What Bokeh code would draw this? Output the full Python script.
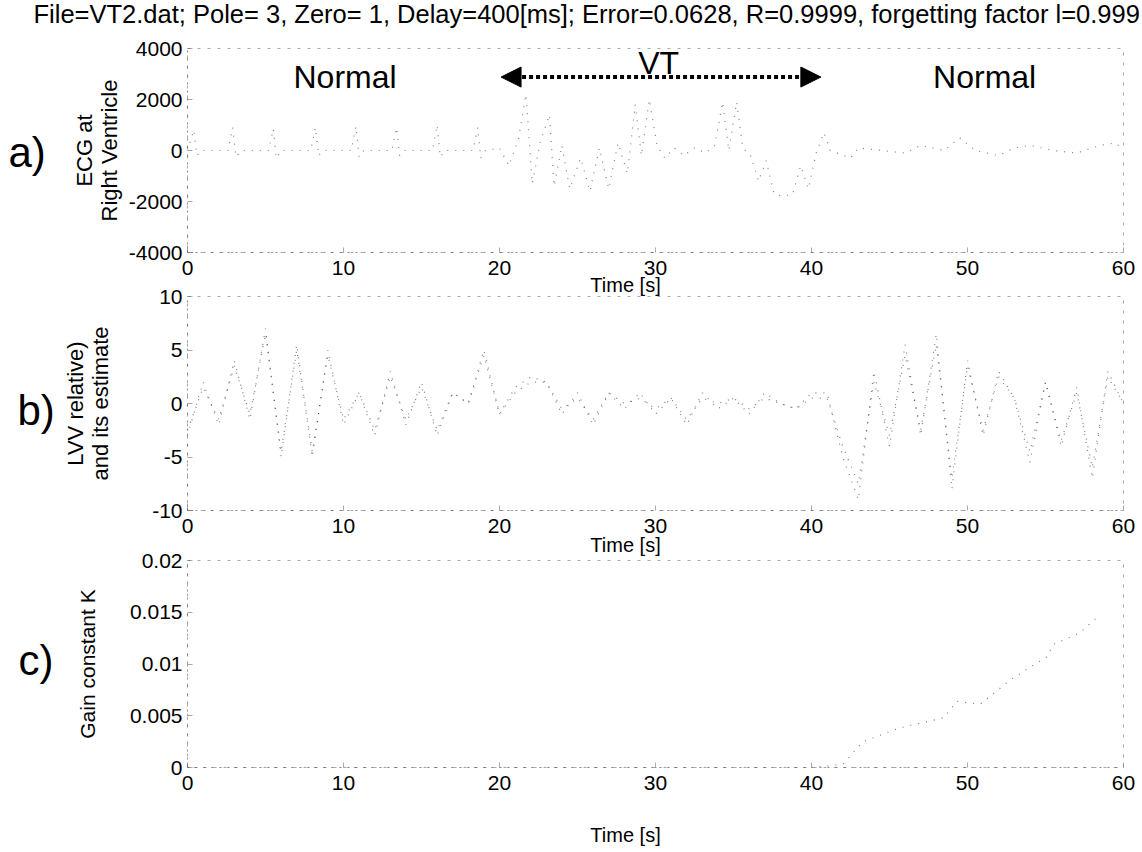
from bokeh.plotting import figure
from bokeh.layouts import column
from bokeh.models import Range1d, FixedTicker, Label, Arrow, NormalHead
from bokeh.embed import file_html
from bokeh.resources import INLINE

FONT = "Liberation Sans"

title_text = "File=VT2.dat; Pole= 3, Zero= 1, Delay=400[ms]; Error=0.0628, R=0.9999, forgetting factor l=0.999"
x_label = "Time [s]"

x_ticks = [0, 10, 20, 30, 40, 50, 60]
x_tick_labels = ["0", "10", "20", "30", "40", "50", "60"]
ecg_ticks = [-4000, -2000, 0, 2000, 4000]
ecg_tick_labels = ["-4000", "-2000", "0", "2000", "4000"]
lvv_ticks = [-10, -5, 0, 5, 10]
lvv_tick_labels = ["-10", "-5", "0", "5", "10"]
k_ticks = [0, 0.005, 0.01, 0.015, 0.02]
k_tick_labels = ["0", "0.005", "0.01", "0.015", "0.02"]

# a) ECG at right ventricle
t_ecg = [0.0, 0.4, 0.6, 0.9, 2.6, 2.9, 3.1, 3.5, 5.2, 5.5, 5.7, 6.0, 7.9, 8.2, 8.4, 8.7,
         10.5, 10.8, 11.0, 11.3, 13.1, 13.4, 13.6, 13.9, 15.7, 16.0, 16.2, 16.5,
         18.3, 18.6, 18.8, 19.1,
         20.0, 20.6, 21.2, 21.7, 22.1, 22.6, 23.2, 23.5, 24.0, 24.5, 25.2, 25.8, 26.4,
         27.0, 27.6, 28.2, 28.7, 29.1, 29.6, 30.1, 30.6, 31.2, 31.8, 32.5, 33.2, 33.8,
         34.3, 34.7, 35.2, 35.6, 36.1, 36.6, 37.1, 37.6, 38.2, 38.8, 39.3, 39.8, 40.3,
         40.8, 41.2,
         42.5, 43.0, 44.5, 46.0, 47.0, 48.5, 49.5, 50.5, 52.0, 53.0, 54.0, 55.5, 57.0,
         58.5, 59.5, 60.0]
ecg = [0, 800, -200, 0, 0, 900, -250, 0, 0, 850, -300, 0, 0, 900, -200, 0,
       0, 950, -250, 0, 0, 900, -200, 0, 0, 1000, -250, 0,
       0, 900, -300, 0,
       100, -600, 400, 2200, -1300, 300, 1400, -1400, 200, -1500, -300, -1600, 100,
       -1500, 300, -900, 1800, -200, 2000, 200, -300, 100, -200, 100, -100, 200,
       1900, 0, 1900, 100, -200, -1200, -400, -1700, -1800, -1700, -600, -1500, -100,
       700, 0,
       -300, 100, 0, -100, 200, 0, 500, 0, -200, 100, 200, 0, -100,
       200, 300, 0]

# b) LVV (relative) and its estimate
t_lvv = [0, 1, 2, 3, 4, 5, 6, 7, 8, 9, 10, 11, 12, 13, 14, 15, 16, 17, 18, 19, 20,
         21, 22, 23, 24, 25, 26, 27, 28, 29, 30, 31, 32, 33, 34, 35, 36, 37, 38, 39, 40,
         41, 42, 43, 44, 45, 46, 47, 48, 49, 50, 51, 52, 53, 54, 55, 56, 57, 58, 59, 60]
lvv = [-3, 2, -2, 4, -1.5, 7, -5, 5.5, -5, 5, -2, 1, -3, 3, -2, 2, -3, 1, 0, 5, -1,
       1.5, 2.5, 2, -1, 1, -2, 1, -0.5, 1, -1, 0.5, -2, 1, -0.5, 0.5, -1, 1, 0, -0.5, 1,
       1, -5, -9, 3, -4, 5.5, -3, 6.5, -8, 4, -3, 3, 0.5, -5.5, 2, -4, 1.5, -7, 3, 0]
lvv_est = [-2.5, 1.5, -1.5, 3.5, -1, 6.5, -4.5, 5, -4.5, 4.5, -1.5, 1, -2.5, 2.5, -1.5, 1.5, -2.5, 1, 0, 4.5, -1,
           1, 2, 2, -0.5, 0.5, -1.5, 1, 0, 0.5, -0.5, 0.5, -1.5, 0.5, 0, 0.5, -0.5, 0.5, 0, -0.5, 0.5,
           0.5, -4, -7.5, 2, -3, 4.5, -2.5, 5.5, -7, 3.5, -2.5, 2.5, 0.5, -4.5, 2, -3.5, 1, -6, 2.5, 0]

# c) Gain constant K
t_k = [0, 5, 10, 15, 20, 25, 30, 35, 40, 42, 43.3, 45.6, 47.0, 48.5, 49.3, 50.8, 52.7,
       53.7, 55.1, 55.5, 57.2, 58.3]
k_val = [0, 0, 0, 0, 0, 0, 0, 0, 0, 0.0003, 0.0025, 0.0038, 0.0043, 0.0048, 0.0064,
         0.0061, 0.0084, 0.0094, 0.0107, 0.0119, 0.013, 0.0145]

W = 1142
LEFT = 187


def make_fig(height, top, bottom, yr, yticks, ylabels, ylabel, ylabel_size, ylabel_standoff,
             xlabel_y, margin_top=None):
    kw = {}
    if margin_top is not None:
        kw["styles"] = {"margin-top": f"{margin_top}px"}
    p = figure(width=W, height=height, x_range=Range1d(0, 60), y_range=Range1d(*yr),
               output_backend="svg", toolbar_location=None,
               min_border_left=LEFT, min_border_right=W - 1123,
               min_border_top=top, min_border_bottom=bottom, **kw)
    p.grid.visible = False
    p.background_fill_color = None
    p.border_fill_color = None
    p.outline_line_color = "#555555"
    p.outline_line_dash = "3 7"
    p.outline_line_alpha = 0.5
    for ax in (p.xaxis[0], p.yaxis[0]):
        ax.axis_line_color = "#444444"
        ax.axis_line_dash = "2 6"
        ax.axis_line_alpha = 0.6
        ax.major_tick_in = 5
        ax.major_tick_out = 0
        ax.major_tick_line_color = "#555555"
        ax.major_tick_line_alpha = 0.5
        ax.minor_tick_line_color = None
        ax.major_label_text_font = FONT
        ax.major_label_text_font_size = "21px"
        ax.major_label_text_color = "black"
        ax.axis_label_text_font = FONT
        ax.axis_label_text_font_size = ylabel_size
        ax.axis_label_text_font_style = "normal"
        ax.axis_label_text_color = "black"
        ax.axis_label_text_line_height = 1.0
    p.xaxis.ticker = FixedTicker(ticks=x_ticks)
    p.xaxis.major_label_overrides = {t: l for t, l in zip(x_ticks, x_tick_labels)}
    p.xaxis.major_label_standoff = 8
    # the x-axis title sits left of the axis centre in the reference
    p.add_layout(Label(x=625 - LEFT, y=xlabel_y, x_units="screen", y_units="screen",
                       text=x_label, text_font=FONT, text_font_size="20px",
                       text_align="center", text_baseline="middle", text_color="black"),
                 "below")
    p.yaxis.ticker = FixedTicker(ticks=yticks)
    p.yaxis.major_label_overrides = {t: l for t, l in zip(yticks, ylabels)}
    p.yaxis.major_label_standoff = 5
    p.yaxis.axis_label = ylabel
    p.yaxis.axis_label_standoff = ylabel_standoff
    return p


def panel_letter(p, text, x, y):
    p.add_layout(Label(x=x, y=y, x_units="screen", y_units="screen",
                       text=text, text_font=FONT, text_font_size="42px",
                       text_baseline="middle", text_align="left", text_color="black"),
                 "left")


trace = dict(line_color="black", line_width=1.2, line_dash="1 7", line_alpha=0.5)

# panel a : frame 48..252
pa = make_fig(312, 48, 60, (-4000, 4000), ecg_ticks, ecg_tick_labels,
              "ECG at\nRight Ventricle", "22px", 4, 15)
pa.background_fill_color = "white"
pa.border_fill_color = "white"
pa.line(t_ecg, ecg, **trace)
pa.add_layout(Label(x=33 - LEFT, y=35, x_units="screen", y_units="screen",
                    text=title_text, text_font=FONT, text_font_size="25.5px",
                    text_baseline="middle", text_align="left", text_color="black"),
              "above")
panel_letter(pa, "a)", -23, 100)
lab = dict(text_font=FONT, text_font_size="32px", text_align="center",
           text_baseline="middle", text_color="black")
pa.add_layout(Label(x=10.1, y=2900, text="Normal", **lab))
pa.add_layout(Label(x=51.1, y=2900, text="Normal", **lab))
pa.add_layout(Label(x=30.2, y=3450, text="VT", **lab))
pa.add_layout(Arrow(x_start=20.1, y_start=2880, x_end=40.6, y_end=2880,
                    line_color="black", line_width=4, line_dash="4 3",
                    start=NormalHead(size=20, fill_color="black", line_color="black"),
                    end=NormalHead(size=20, fill_color="black", line_color="black")))

# panel b : frame 296..510
pb = make_fig(290, 16, 60, (-10, 10), lvv_ticks, lvv_tick_labels,
              "LVV relative)\nand its estimate", "22px", 36, 13, margin_top=-32)
pb.line(t_lvv, lvv, **trace)
pb.line(t_lvv, lvv_est, **trace)
panel_letter(pb, "b)", -6, 100)

# panel c : frame 560..767
pc = make_fig(307, 16, 84, (0, 0.02), k_ticks, k_tick_labels,
              "Gain constant K", "21px", 28, -20, margin_top=-26)
pc.line(t_k, k_val, **trace)
panel_letter(pc, "c)", -19, 107)

layout = column(pa, pb, pc, spacing=0)
open("out.html", "w").write(file_html(layout, INLINE))
